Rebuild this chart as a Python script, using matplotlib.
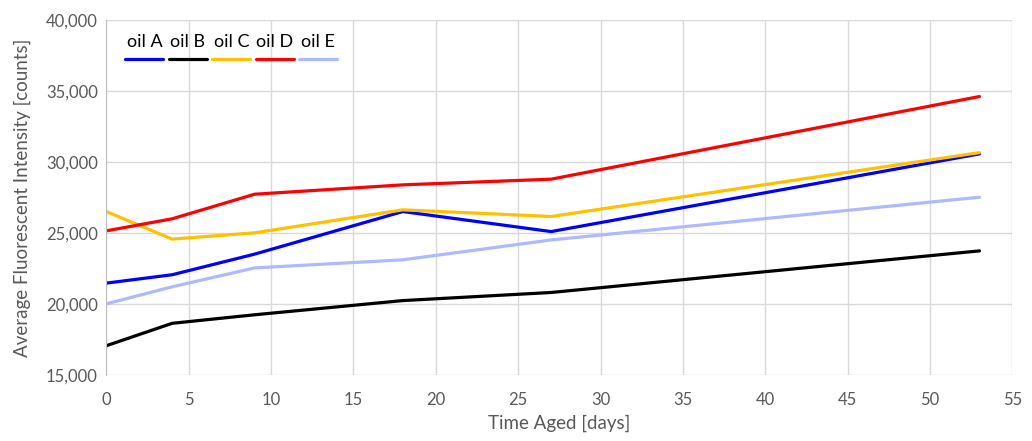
import numpy as np
import matplotlib.pyplot as plt
from matplotlib.lines import Line2D

plt.rcParams['font.family'] = ['Lato', 'DejaVu Sans']

# datos
dias = [0, 4, 9, 18, 27, 53]
series = ['oil A', 'oil B', 'oil C', 'oil D', 'oil E']
oil_a = [21460, 22050, 23500, 26500, 25090, 30560]
oil_b = [17050, 18630, 19230, 20230, 20800, 23730]
oil_c = [26500, 24560, 25000, 26620, 26150, 30650]
oil_d = [25140, 25990, 27720, 28380, 28780, 34600]
oil_e = [20000, 21200, 22530, 23100, 24500, 27510]
colores = ['#0000FF', '#000000', '#FFC000', '#FF0000', '#AFB9FF']

fig = plt.figure(figsize=(10.32, 4.41), dpi=100)
ax = fig.add_axes([0.103, 0.150, 0.878, 0.805])

valores = [oil_a, oil_b, oil_c, oil_d, oil_e]
for nombre, v, c in zip(series, valores, colores):
    ax.plot(dias, v, color=c, lw=2.3, label=nombre, solid_capstyle='round')

ax.set_xlim(0, 55)
ax.set_ylim(15000, 40000)
ax.set_xticks(np.arange(0, 56, 5))
ax.set_yticks(np.arange(15000, 40001, 5000))
ax.yaxis.set_major_formatter(plt.FuncFormatter(lambda v, p: f'{int(v):,}'))
ax.grid(True, color='#D9D9D9', lw=1)
ax.set_axisbelow(True)
for s in ax.spines.values():
    s.set_visible(False)
ax.spines['left'].set_visible(True)
ax.spines['left'].set_color('#BFBFBF')
ax.tick_params(length=0, labelsize=12, colors='#595959')
ax.tick_params(axis='y', pad=6)
ax.tick_params(axis='x', pad=12)
ax.set_xlabel('Time Aged [days]', fontsize=13.5, color='#595959', labelpad=5)
ax.set_ylabel('Average Fluorescent Intensity [counts]', fontsize=13.5, color='#595959', labelpad=11)

# leyenda con el texto arriba de la linea
x0, paso, largo = 0.021, 0.048, 0.042
for i, (nombre, c) in enumerate(zip(series, colores)):
    xi = x0 + i * paso
    ax.add_line(Line2D([xi, xi + largo], [0.890, 0.890], transform=ax.transAxes,
                       color=c, lw=2.3, solid_capstyle='round'))
    ax.text(xi + largo / 2, 0.937, nombre, transform=ax.transAxes, ha='center', va='center',
            fontsize=13, color='black')

fig.savefig('out.png', dpi=100)
